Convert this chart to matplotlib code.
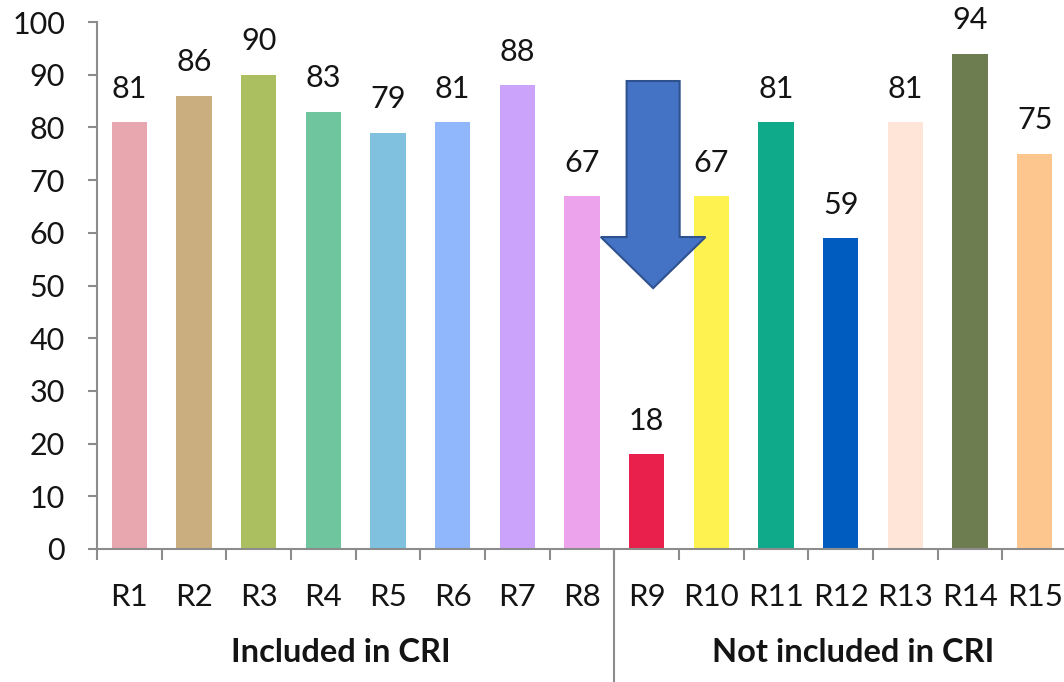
import matplotlib.pyplot as plt
import numpy as np
from matplotlib.patches import Polygon
from matplotlib.ticker import FixedLocator

plt.rcParams['font.family'] = ['Lato', 'DejaVu Sans']

# data
names = ["R1", "R2", "R3", "R4", "R5", "R6", "R7", "R8",
         "R9", "R10", "R11", "R12", "R13", "R14", "R15"]
values = [81, 86, 90, 83, 79, 81, 88, 67, 18, 67, 81, 59, 81, 94, 75]
colors = ["#E8A6AF", "#CBAE7F", "#ABBF61", "#6EC59E", "#7FC1DF",
          "#90B6FB", "#CBA3FB", "#EDA3EB", "#E8204B", "#FEF250",
          "#0EAA89", "#015CC0", "#FEE5D8", "#6D7D4F", "#FEC68F"]
groups = ["Included in CRI", "Not included in CRI"]
group_sizes = [8, 7]

txt = "#141414"
axis_col = "#8C8C8C"

fig = plt.figure(figsize=(10.64, 6.82), dpi=100)
ax = fig.add_axes([97 / 1064, 1 - 549 / 682, 970 / 1064, 527 / 682])

x = np.arange(1, len(values) + 1)
ax.bar(x, values, width=0.55, color=colors, zorder=2)

for xi, v in zip(x, values):
    ax.annotate(str(v), (xi, v), xytext=(0, 17.5), textcoords="offset points",
                ha="center", va="baseline", fontsize=22, color=txt)

ax.set_xlim(0.5, len(values) + 0.5)
ax.set_ylim(0, 100)
ax.set_yticks(range(0, 101, 10))
ax.set_xticks(x)
ax.set_xticklabels(names)
# excel style ticks between categories
ax.xaxis.set_minor_locator(FixedLocator(np.arange(0.5, len(values) + 1, 1.0)))

ax.tick_params(axis="x", which="major", length=0, pad=24.5, labelsize=22.5, labelcolor=txt)
ax.tick_params(axis="x", which="minor", length=8, width=1.5, color=axis_col, direction="out")
ax.tick_params(axis="y", length=6.5, width=1.5, color=axis_col, pad=16.5,
               labelsize=22, labelcolor=txt, direction="out")

for s in ["top", "right"]:
    ax.spines[s].set_visible(False)
for s in ["left", "bottom"]:
    ax.spines[s].set_color(axis_col)
    ax.spines[s].set_linewidth(1.5)

# group labels under the ticks, plus the divider line
trans = ax.get_xaxis_transform()
group_label_x = [4.27, 12.2]
for g, gx in zip(groups, group_label_x):
    ax.text(gx, -0.2144, g, transform=trans, ha="center", va="baseline",
            fontsize=23.5, fontweight="bold", color=txt)
sep = 0.5 + group_sizes[0]
ax.plot([sep, sep], [0, -0.3], transform=trans, color=axis_col, lw=1.5, clip_on=False)

# blue down arrow
arr_x = 9.1
shaft_w = 0.41
head_w = 0.81
top, neck, tip = 88.8, 59.2, 49.5
arrow = Polygon([(arr_x - shaft_w, top), (arr_x + shaft_w, top), (arr_x + shaft_w, neck),
                 (arr_x + head_w, neck), (arr_x, tip), (arr_x - head_w, neck),
                 (arr_x - shaft_w, neck)],
                closed=True, facecolor="#4472C4", edgecolor="#2F528F", lw=1.5, zorder=3)
ax.add_patch(arrow)

fig.savefig("out.png", dpi=100)
